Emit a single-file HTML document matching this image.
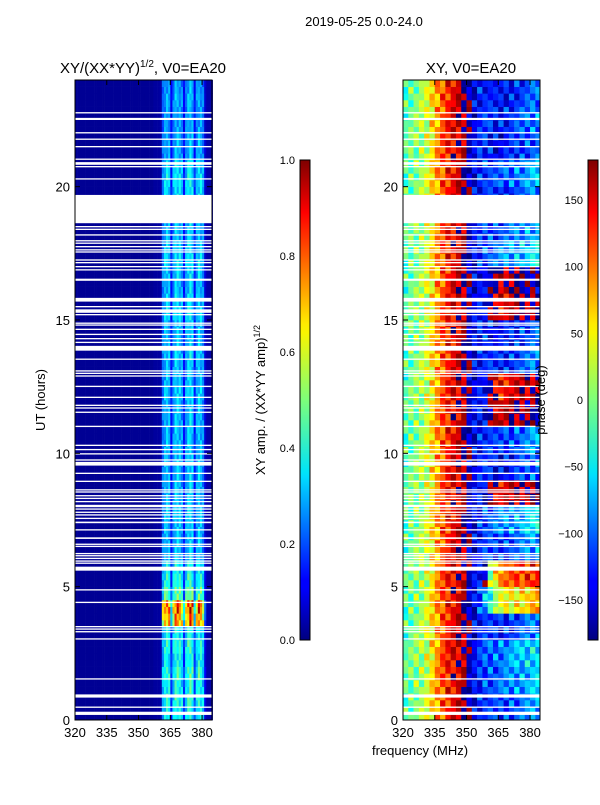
<!DOCTYPE html>
<html><head><meta charset="utf-8">
<style>
body{margin:0;background:#fff;}
svg text{font-family:"Liberation Sans",sans-serif;fill:#000;}
</style></head>
<body>
<svg id="fig" width="600" height="800" xmlns="http://www.w3.org/2000/svg">
<defs>
<linearGradient id="jet" x1="0" y1="1" x2="0" y2="0">
<stop offset="0" stop-color="#00007f"/><stop offset="0.11" stop-color="#0000ff"/>
<stop offset="0.125" stop-color="#0000ff"/><stop offset="0.34" stop-color="#00dcff"/>
<stop offset="0.35" stop-color="#00e4f8"/><stop offset="0.5" stop-color="#7dff7a"/>
<stop offset="0.64" stop-color="#f8f500"/><stop offset="0.66" stop-color="#ffea00"/>
<stop offset="0.89" stop-color="#ff0000"/><stop offset="1" stop-color="#7f0000"/>
</linearGradient>
</defs>
<text x="364" y="26" font-size="13" text-anchor="middle">2019-05-25 0.0-24.0</text>
<text x="143" y="73" font-size="15" text-anchor="middle">XY/(XX*YY)<tspan font-size="10" dy="-6">1/2</tspan><tspan dy="6">, V0=EA20</tspan></text>
<text x="471" y="73" font-size="15" text-anchor="middle">XY, V0=EA20</text>
<g id="leftMap"></g>
<g id="rightMap"></g>
<g id="axes"></g>
<rect x="300" y="160" width="10" height="480" fill="url(#jet)" stroke="#000" stroke-width="1"/>
<rect x="588" y="160" width="10" height="480" fill="url(#jet)" stroke="#000" stroke-width="1"/>
<text transform="translate(265,400) rotate(-90)" font-size="13" text-anchor="middle">XY amp. / (XX*YY amp)<tspan font-size="9" dy="-5">1/2</tspan></text>
<text transform="translate(545,400) rotate(-90)" font-size="13" text-anchor="middle">phase (deg)</text>
<text transform="translate(45,400) rotate(-90)" font-size="13" text-anchor="middle">UT (hours)</text>
<text x="420" y="755" font-size="13" text-anchor="middle">frequency (MHz)</text>
</svg>
<script>
// ---- data ----
const gapHours = [[22.745,22.795],[22.5,22.58],[21.995,22.045],[21.755,21.805],[21.475,21.525],[21.005,21.055],[20.82,20.92],[20.725,20.775],[20.265,20.315],
[18.63,19.69],[18.475,18.525],[18.375,18.425],[18.165,18.215],[17.945,17.995],[17.855,17.905],[17.725,17.775],[17.605,17.655],[17.525,17.575],[17.225,17.275],[17.125,17.175],[16.975,17.025],[16.855,16.905],[16.47,16.55],
[15.69,15.83],[15.475,15.525],[15.27,15.4],[15.175,15.225],[14.855,14.905],[14.785,14.835],[14.625,14.675],[14.435,14.485],[14.275,14.325],[14.135,14.185],[13.85,14.03],[13.505,13.555],[13.065,13.115],[12.975,13.025],[12.875,12.925],[12.485,12.535],[12.075,12.125],[11.775,11.825],[11.675,11.725],[11.515,11.565],[10.985,11.035],[10.275,10.325],[10.115,10.165],[9.955,10.005],[9.725,9.775],[9.54,9.68],[9.225,9.275],[8.925,8.975],[8.605,8.655],[8.525,8.575],[8.385,8.435],[8.285,8.335],[8.165,8.215],[7.98,8.07],[7.885,7.935],[7.765,7.815],[7.665,7.715],[7.535,7.585],[7.38,7.44],[7.105,7.155],[6.79,6.85],[6.565,6.615],[6.485,6.535],[6.215,6.265],[6.135,6.185],[6.035,6.085],[5.935,5.985],[5.855,5.905],[5.6,5.75],[4.855,4.905],[4.385,4.435],[3.475,3.525],[3.385,3.435],[3.285,3.335],[3.015,3.065],[1.515,1.565],[0.84,0.96],[0.455,0.505],[0.19,0.31]];
// amplitude per 1-MHz channel, 320..384
const ampChan = [0.02,0.02,0.02,0.02,0.02,0.02,0.02,0.02,0.02,0.02,0.02,0.02,0.02,0.02,0.02,0.02,0.02,0.02,0.02,0.02,0.02,0.02,0.02,0.02,0.02,0.02,0.02,0.02,0.02,0.02,0.02,0.02,0.02,0.02,0.02,0.02,0.02,0.03,0.03,0.03,0.04,
0.24,0.3,0.32,0.3,0.14,0.27,0.33,0.33,0.31,0.28,0.14,0.28,0.33,0.35,0.32,0.15,0.28,0.33,0.31,0.26,0.08,0.04,0.04,0.04];
// amplitude scale per half-hour (48 values, 0h upward)
const ampRowScale = [1.2,1.3,1.25,1.35,1.2,1.3,1.2,2.3,2.5,1.5,1.3,1.2,1.0,1.0,1.0,1.05,1.0,1.0,1.0,1.0,1.0,1.0,1.0,1.0,1.05,1.0,1.0,1.05,1.0,1.0,1.1,1.05,1.0,1.05,1.1,1.05,1.0,1.0,1.0,1.1,1.15,1.1,0.95,0.95,0.9,0.9,0.95,0.9];
const ampTexture = [1,0.85,1.12,0.9,1.05,0.8,1.15,0.95,0.88,1.08];
// phase per 2.5-MHz bin (320..385) for low frequencies
const phaseCol = [-20,-10,0,10,25,50,80,105,125,140,150,165,195,215,235,250,260,265,270,270,270,270,270,270,270,270];
const phaseWeight = [0,0,0,0,0,0,0,0,0,0,0,0,0,0,0.1,0.3,0.6,0.85,1,1,1,1,1,1,1,1];
// phase at high freq per hour
const phaseHi = [-110,-90,-80,-120,40,100,-110,-80,150,-130,-110,160,140,-120,-130,150,170,-80,-100,-120,-100,-130,-120,-130];
const phaseTex = [0,25,-30,10,-15,40,-5,20,-35,15,-20,5,30];
const xTicks = [320,335,350,365,380];
const yTicks = [0,5,10,15,20];
const cbAmpTicks = [0.0,0.2,0.4,0.6,0.8,1.0];
const cbPhaseTicks = [150,100,50,0,-50,-100,-150];

// ---- scales ----
const NS='http://www.w3.org/2000/svg';
const panels=[{x0:75,x1:212},{x0:403,x1:540}];
const Y0=720,Y1=80, F0=320, F1=384.7;
const yS=h=>Y0-(h/24)*(Y0-Y1);
const xS=(p,f)=>p.x0+(f-F0)/(F1-F0)*(p.x1-p.x0);
function jet(v){v=Math.max(0,Math.min(1,v));
 const r=Math.max(0,Math.min(1,1.5-Math.abs(4*v-3))),g=Math.max(0,Math.min(1,1.5-Math.abs(4*v-2))),b=Math.max(0,Math.min(1,1.5-Math.abs(4*v-1)));
 return `rgb(${Math.round(r*255)},${Math.round(g*255)},${Math.round(b*255)})`;}
function mk(tag,attrs,parent){const e=document.createElementNS(NS,tag);for(const k in attrs)e.setAttribute(k,attrs[k]);parent.appendChild(e);return e;}

// left heatmap
const L=document.getElementById('leftMap');
const NR=96;
for(let r=0;r<NR;r++){
 const h0=r*0.25,h1=h0+0.25;
 for(let c=0;c<ampChan.length;c++){
  let v=ampChan[c];
  if(v>0.06) v=v*ampRowScale[Math.floor(r/2)]*ampTexture[(r*3+c)%ampTexture.length];
  else v=v*(0.9+0.1*ampTexture[(r+c)%ampTexture.length]);
  const x=xS(panels[0],F0+c), w=xS(panels[0],F0+c+1)-x;
  const el=mk('rect',{x:x.toFixed(2),y:yS(h1).toFixed(2),width:(w+0.3).toFixed(2),height:(yS(h0)-yS(h1)+0.3).toFixed(2),fill:jet(v)},L);
  
  
 }
}
// right heatmap
const R=document.getElementById('rightMap');
for(let r=0;r<NR;r++){
 const h0=r*0.25,h1=h0+0.25,hr=Math.floor(r/4);
 for(let c=0;c<phaseCol.length;c++){
  const w=phaseWeight[c];
  let hi=phaseHi[hr]+(c-20)*6;
  while(hi-phaseCol[c]>180) hi-=360;
  while(phaseCol[c]-hi>180) hi+=360;
  let p=(1-w)*phaseCol[c]+w*hi+phaseTex[(r*5+c*3)%phaseTex.length];
  p=((p+180)%360+360)%360-180;
  const f=F0+c*2.5;
  const x=xS(panels[1],f), x2=Math.min(panels[1].x1,xS(panels[1],f+2.5));
  const el=mk('rect',{x:x.toFixed(2),y:yS(h1).toFixed(2),width:(x2-x+0.3).toFixed(2),height:(yS(h0)-yS(h1)+0.3).toFixed(2),fill:jet((p+180)/360)},R);
  
  
 }
}
// gaps
const A=document.getElementById('axes');
panels.forEach((p,i)=>{
 gapHours.forEach(g=>{
  const el=mk('rect',{x:p.x0,y:yS(g[1]).toFixed(2),width:p.x1-p.x0,height:Math.max(1.3,yS(g[0])-yS(g[1])).toFixed(2),fill:'#fff'},A);
  
  
 });
 const fr=mk('rect',{x:p.x0,y:Y1,width:p.x1-p.x0,height:Y0-Y1,fill:'none',stroke:'#000','stroke-width':1},A);
 
 
 xTicks.forEach(t=>{
  const x=xS(p,t);
  mk('line',{x1:x,x2:x,y1:Y0,y2:Y0-5,stroke:'#000'},A);
  mk('line',{x1:x,x2:x,y1:Y1,y2:Y1+5,stroke:'#000'},A);
  const tx=mk('text',{x:x,y:Y0+17,'font-size':13,'text-anchor':'middle'},A);
  tx.textContent=t;
  
  
 });
 yTicks.forEach(t=>{
  const y=yS(t);
  mk('line',{x1:p.x0,x2:p.x0+5,y1:y,y2:y,stroke:'#000'},A);
  mk('line',{x1:p.x1,x2:p.x1-5,y1:y,y2:y,stroke:'#000'},A);
  const tx=mk('text',{x:p.x0-5,y:y+5,'font-size':13,'text-anchor':'end'},A);
  tx.textContent=t;
  
  
 });
});
cbAmpTicks.forEach(t=>{
 const y=640-t*480;
 mk('line',{x1:300,x2:303,y1:y,y2:y,stroke:'#000'},A);
 mk('line',{x1:307,x2:310,y1:y,y2:y,stroke:'#000'},A);
 const tx=mk('text',{x:295,y:y+4,'font-size':11,'text-anchor':'end'},A);
 tx.textContent=t.toFixed(1);
 
 
});
cbPhaseTicks.forEach(t=>{
 const y=400-t*480/360;
 mk('line',{x1:588,x2:591,y1:y,y2:y,stroke:'#000'},A);
 mk('line',{x1:595,x2:598,y1:y,y2:y,stroke:'#000'},A);
 const tx=mk('text',{x:583,y:y+4,'font-size':11,'text-anchor':'end'},A);
 tx.textContent=t<0?'\u2212'+(-t):t;
 
 
});
</script>
</body></html>
